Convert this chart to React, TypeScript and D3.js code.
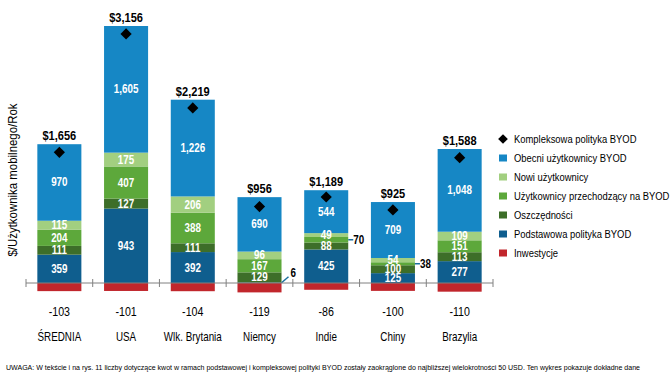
import * as d3 from "d3"
import { useEffect, useRef } from "react"

const categories = ["ŚREDNIA", "USA", "Wlk. Brytania", "Niemcy", "Indie", "Chiny", "Brazylia"]
const podstawowa = [359, 943, 392, 6, 425, 125, 277]
const oszczednosci = [111, 127, 111, 129, 88, 100, 113]
const przechodzacy = [204, 407, 388, 167, 70, 38, 151]
const nowi = [115, 175, 206, 96, 49, 54, 109]
const obecni = [970, 1605, 1226, 690, 544, 709, 1048]
const inwestycje = [-103, -101, -104, -119, -86, -100, -110]
const totalLabels = ["$1,656", "$3,156", "$2,219", "$956", "$1,189", "$925", "$1,588"]

const seriesColors = ["#0f5e8e", "#3d6e29", "#5da83b", "#a2cf80", "#1687c5"]
const investColor = "#c1262c"

const legendNames = ["Kompleksowa polityka BYOD", "Obecni użytkownicy BYOD", "Nowi użytkownicy", "Użytkownicy przechodzący na BYOD", "Oszczędności", "Podstawowa polityka BYOD", "Inwestycje"]
const legendColors = ["#000", "#1687c5", "#a2cf80", "#5da83b", "#3d6e29", "#0f5e8e", "#c1262c"]

const note = "UWAGA: W tekście i na rys. 11 liczby dotyczące kwot w ramach podstawowej i kompleksowej polityki BYOD zostały zaokrąglone do najbliższej wielokrotności 50 USD. Ten wykres pokazuje dokładne dane"

const font = "'Liberation Sans', Arial, sans-serif"
const narrow = 0.82

export default function App() {
    const svgRef = useRef<SVGSVGElement>(null)

    useEffect(() => {
        const width = 672
        const height = 384

        if (svgRef.current !== null) {
            svgRef.current.innerHTML = ""
        }
        const svg = d3.select(svgRef.current)
            .attr("width", width)
            .attr("height", height)
            .attr("viewBox", [0, 0, width, height])
            .style("font-family", font)

        // text squeezed horizontally, to look like Arial Narrow
        const label = (parent: any, x: number, y: number, s: string | number, size: number, opts: any = {}) =>
            parent.append("text")
                .attr("transform", `translate(${x},${y}) scale(${narrow},1)`)
                .attr("text-anchor", opts.anchor ?? "middle")
                .attr("font-size", size)
                .attr("font-weight", opts.bold ? "bold" : "normal")
                .attr("fill", opts.fill ?? "#000")
                .text(s)

        const xScale = d3.scaleBand(categories, [26, 493]).paddingInner(0.34).paddingOuter(0.17)
        const yScale = d3.scaleLinear([0, 3257], [283, 26])

        const series = [podstawowa, oszczednosci, przechodzacy, nowi, obecni]
        const rows = categories.map((c, i) => {
            const r: any = { cat: c }
            series.forEach((s, k) => { r["s" + k] = s[i] })
            return r
        })
        const stacked = d3.stack().keys(series.map((_, k) => "s" + k))(rows)

        stacked.forEach((layer, k) => {
            svg.append("g")
                .attr("fill", seriesColors[k])
                .selectAll()
                .data(layer)
                .join("rect")
                    .attr("x", d => xScale(d.data.cat as string)!)
                    .attr("y", d => yScale(d[1]))
                    .attr("width", xScale.bandwidth())
                    .attr("height", d => yScale(d[0]) - yScale(d[1]))
        })

        svg.append("g")
            .attr("fill", investColor)
            .selectAll()
            .data(inwestycje)
            .join("rect")
                .attr("x", (_, i) => xScale(categories[i])!)
                .attr("y", yScale(0))
                .attr("width", xScale.bandwidth())
                .attr("height", d => yScale(d) - yScale(0))

        // segment labels, thin ones outside with a pointer
        stacked.forEach((layer, k) => {
            layer.forEach((d, i) => {
                const v = d[1] - d[0]
                const x0 = xScale(categories[i])!
                const cx = x0 + xScale.bandwidth() / 2
                const cy = yScale((d[0] + d[1]) / 2)
                const right = x0 + xScale.bandwidth()
                if (v < 20) {
                    svg.append("line")
                        .attr("x1", right).attr("y1", cy)
                        .attr("x2", right + 7).attr("y2", cy - 6)
                        .attr("stroke", "#1b6f9e").attr("stroke-width", 1.5)
                    label(svg, right + 9, cy - 6, v, 12, { bold: true, anchor: "start" })
                } else if (k === 2 && yScale(d[0]) - yScale(d[1]) < 7) {
                    svg.append("line")
                        .attr("x1", right).attr("y1", cy)
                        .attr("x2", right + 5).attr("y2", cy)
                        .attr("stroke", "#1b6f9e").attr("stroke-width", 1.5)
                    label(svg, right + 5, cy + 4, v, 12, { bold: true, anchor: "start" })
                } else {
                    label(svg, cx, cy + 4, d3.format(",")(v), 12, { bold: true, fill: "#fff" })
                }
            })
        })

        // totals and diamonds
        const top = stacked[stacked.length - 1]
        top.forEach((d, i) => {
            const cx = xScale(categories[i])! + xScale.bandwidth() / 2
            label(svg, cx, yScale(d[1]) - 4, totalLabels[i], 13.5, { bold: true })
            const net = d[1] + inwestycje[i]
            svg.append("path")
                .attr("d", d3.symbol(d3.symbolDiamond2, 80)()!)
                .attr("transform", `translate(${cx},${yScale(net)})`)
                .attr("fill", "#000")
        })

        // axis
        const axis = svg.append("g").attr("stroke", "#808080")
        axis.append("line")
            .attr("x1", 26).attr("x2", 493)
            .attr("y1", yScale(0)).attr("y2", yScale(0))
        const bounds = categories.map(c => xScale(c)! - xScale.step() * xScale.paddingInner() / 2).concat([493])
        bounds[0] = 26
        axis.selectAll("line.tick")
            .data(bounds)
            .join("line")
                .attr("class", "tick")
                .attr("x1", d => d).attr("x2", d => d)
                .attr("y1", yScale(0) - 4).attr("y2", yScale(0) + 4)

        categories.forEach((c, i) => {
            const cx = xScale(c)! + xScale.bandwidth() / 2
            label(svg, cx, 316, inwestycje[i], 13)
            label(svg, cx, 341, c, 12)
        })

        // y label
        svg.append("text")
            .attr("transform", "translate(17,180) rotate(-90) scale(0.88,1)")
            .attr("text-anchor", "middle")
            .attr("font-size", 13)
            .text("$/Użytkownika mobilnego/Rok")

        // legend
        const legend = svg.append("g").attr("transform", "translate(499,139)")
        legendNames.forEach((name, i) => {
            const g = legend.append("g").attr("transform", `translate(0,${i * 19})`)
            if (i === 0) {
                g.append("path")
                    .attr("d", d3.symbol(d3.symbolDiamond2, 60)()!)
                    .attr("transform", "translate(4,0)")
                    .attr("fill", legendColors[i])
            } else {
                g.append("rect")
                    .attr("x", 0).attr("y", -3.5)
                    .attr("width", 8).attr("height", 7)
                    .attr("fill", legendColors[i])
            }
            label(g, 15, 4, name, 11.5, { anchor: "start" })
        })

        // note
        svg.append("text")
            .attr("x", 6).attr("y", 370)
            .attr("font-size", 7.5)
            .attr("textLength", 634)
            .attr("lengthAdjust", "spacingAndGlyphs")
            .text(note)
    }, [])

    return <>
        <svg ref={svgRef} style={{ position: "absolute", left: 0, top: 0 }}></svg>
    </>
}
